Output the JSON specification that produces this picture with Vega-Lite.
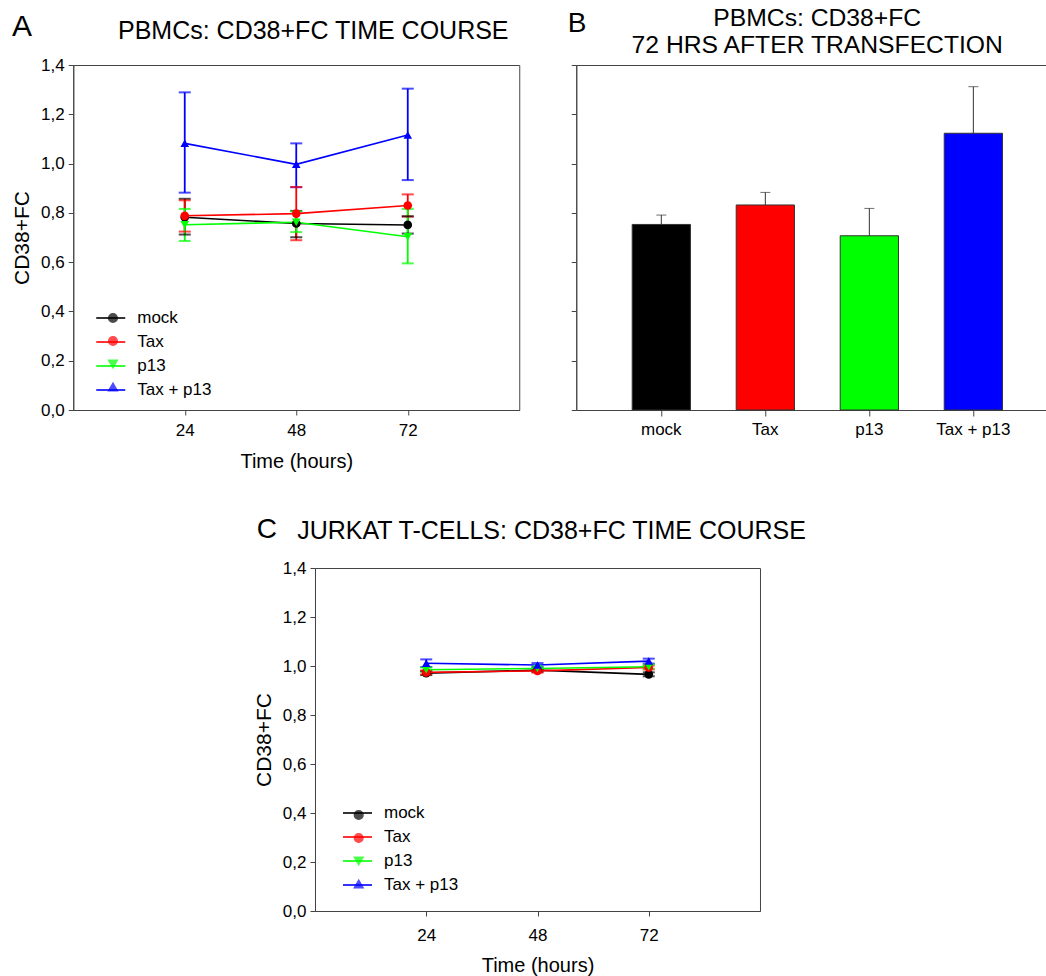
{
  "$schema": "https://vega.github.io/schema/vega-lite/v6.json",
  "padding": {"left": 11, "top": 5, "right": 0, "bottom": 0},
  "datasets": {
    "pbmc_time": [
      {"series": "mock", "hours": 24, "fc": 0.782, "lo": 0.712, "hi": 0.857},
      {"series": "mock", "hours": 48, "fc": 0.757, "lo": 0.701, "hi": 0.808},
      {"series": "mock", "hours": 72, "fc": 0.751, "lo": 0.716, "hi": 0.786},
      {"series": "Tax", "hours": 24, "fc": 0.788, "lo": 0.724, "hi": 0.851},
      {"series": "Tax", "hours": 48, "fc": 0.797, "lo": 0.689, "hi": 0.905},
      {"series": "Tax", "hours": 72, "fc": 0.830, "lo": 0.785, "hi": 0.875},
      {"series": "p13", "hours": 24, "fc": 0.752, "lo": 0.686, "hi": 0.816},
      {"series": "p13", "hours": 48, "fc": 0.762, "lo": 0.722, "hi": 0.806},
      {"series": "p13", "hours": 72, "fc": 0.703, "lo": 0.595, "hi": 0.816},
      {"series": "Tax + p13", "hours": 24, "fc": 1.082, "lo": 0.882, "hi": 1.289},
      {"series": "Tax + p13", "hours": 48, "fc": 0.997, "lo": 0.904, "hi": 1.082},
      {"series": "Tax + p13", "hours": 72, "fc": 1.116, "lo": 0.933, "hi": 1.304}
    ],
    "pbmc_72": [
      {"group": "mock", "fc": 0.753, "hi": 0.791},
      {"group": "Tax", "fc": 0.832, "hi": 0.883},
      {"group": "p13", "fc": 0.707, "hi": 0.818},
      {"group": "Tax + p13", "fc": 1.123, "hi": 1.312}
    ],
    "jurkat_time": [
      {"series": "mock", "hours": 24, "fc": 0.971, "lo": 0.963, "hi": 0.979},
      {"series": "mock", "hours": 48, "fc": 0.983, "lo": 0.976, "hi": 0.990},
      {"series": "mock", "hours": 72, "fc": 0.966, "lo": 0.958, "hi": 0.974},
      {"series": "Tax", "hours": 24, "fc": 0.974, "lo": 0.966, "hi": 0.982},
      {"series": "Tax", "hours": 48, "fc": 0.980, "lo": 0.973, "hi": 0.987},
      {"series": "Tax", "hours": 72, "fc": 0.994, "lo": 0.986, "hi": 1.002},
      {"series": "p13", "hours": 24, "fc": 0.985, "lo": 0.976, "hi": 0.994},
      {"series": "p13", "hours": 48, "fc": 0.990, "lo": 0.983, "hi": 0.997},
      {"series": "p13", "hours": 72, "fc": 0.997, "lo": 0.989, "hi": 1.005},
      {"series": "Tax + p13", "hours": 24, "fc": 1.011, "lo": 0.996, "hi": 1.027},
      {"series": "Tax + p13", "hours": 48, "fc": 1.004, "lo": 0.996, "hi": 1.012},
      {"series": "Tax + p13", "hours": 72, "fc": 1.020, "lo": 1.010, "hi": 1.030}
    ]
  },
  "config": {
    "font": "Liberation Sans",
    "view": {"stroke": "#444", "strokeWidth": 1},
    "axis": {"domainColor": "#444", "tickColor": "#444", "labelColor": "#000", "titleColor": "#000", "grid": false, "labelFont": "Liberation Sans", "titleFont": "Liberation Sans", "titleFontWeight": "normal", "labelFontSize": 17, "tickSize": 5},
    "title": {"font": "Liberation Sans", "fontWeight": "normal", "color": "#000", "fontSize": 25},
    "legend": {"labelFont": "Liberation Sans", "labelColor": "#000", "labelFontSize": 17, "title": null, "padding": 0}
  },
  "center": true,
  "spacing": 43,
  "resolve": {"legend": {"color": "independent", "shape": "independent", "stroke": "independent"}},
  "vconcat": [
    {
      "title": {"text": "A", "anchor": "start", "fontSize": 30, "dx": 1, "dy": 37, "offset": 0},
      "spacing": 57,
      "bounds": "flush",
      "resolve": {"legend": {"color": "independent", "shape": "independent", "stroke": "independent"}},
      "hconcat": [
        {
          "width": 446, "height": 345,
          "title": {"text": "PBMCs: CD38+FC TIME COURSE", "offset": 12, "anchor": "middle", "dx": 17},
          "data": {"name": "pbmc_time"},
          "encoding": {
            "x": {"field": "hours", "type": "quantitative", "scale": {"domain": [0, 96], "nice": false}, "axis": {"values": [24, 48, 72], "title": "Time (hours)", "titleFontSize": 20, "labelPadding": 7, "titlePadding": 13}}
          },
          "layer": [
            {"mark": {"type": "rule", "strokeWidth": 1.8}, "encoding": {"y": {"field": "lo", "type": "quantitative", "title": "CD38+FC", "scale": {"domain": [0, 1.4], "nice": false}, "axis": {"values": [0, 0.2, 0.4, 0.6, 0.8, 1.0, 1.2, 1.4], "labelExpr": "replace(format(datum.value, '.1f'), '.', ',')", "titleFontSize": 21, "labelPadding": 4, "titlePadding": 8}}, "y2": {"field": "hi"},
              "color": {"field": "series", "type": "nominal", "scale": {"domain": ["mock", "Tax", "p13", "Tax + p13"], "range": ["#000000", "#ff0000", "#00ff00", "#0000ff"]}, "legend": {"orient": "none", "legendX": 31.2, "legendY": 244.5, "symbolSize": 75, "labelOffset": 21, "labelOpacity": 0, "rowPadding": 5}}}},
            {"mark": {"type": "tick", "orient": "horizontal", "size": 12, "thickness": 2}, "encoding": {"y": {"field": "lo", "type": "quantitative", "title": "CD38+FC"},
              "color": {"field": "series", "type": "nominal", "scale": {"domain": ["mock", "Tax", "p13", "Tax + p13"], "range": ["#000000", "#ff0000", "#00ff00", "#0000ff"]}, "legend": {"orient": "none", "legendX": 31.2, "legendY": 244.5, "symbolSize": 75, "labelOffset": 21, "labelOpacity": 0, "rowPadding": 5}}}},
            {"mark": {"type": "tick", "orient": "horizontal", "size": 12, "thickness": 2}, "encoding": {"y": {"field": "hi", "type": "quantitative", "title": "CD38+FC"},
              "color": {"field": "series", "type": "nominal", "scale": {"domain": ["mock", "Tax", "p13", "Tax + p13"], "range": ["#000000", "#ff0000", "#00ff00", "#0000ff"]}, "legend": {"orient": "none", "legendX": 31.2, "legendY": 244.5, "symbolSize": 75, "labelOffset": 21, "labelOpacity": 0, "rowPadding": 5}}}},
            {"mark": {"type": "line", "strokeWidth": 1.6}, "encoding": {"y": {"field": "fc", "type": "quantitative", "title": "CD38+FC"},
              "stroke": {"field": "series", "type": "nominal", "sort": ["mock", "Tax", "p13", "Tax + p13"], "scale": {"range": ["#000000", "#ff0000", "#00ff00", "#0000ff"]}, "legend": {"orient": "none", "legendX": 22, "legendY": 237.5, "symbolType": "stroke", "symbolSize": 841, "symbolStrokeWidth": 1.6, "labelOffset": 11, "rowPadding": -1}}}},
            {"mark": {"type": "point", "filled": true, "size": 75, "opacity": 1}, "encoding": {"y": {"field": "fc", "type": "quantitative", "title": "CD38+FC"},
              "color": {"field": "series", "type": "nominal", "scale": {"domain": ["mock", "Tax", "p13", "Tax + p13"], "range": ["#000000", "#ff0000", "#00ff00", "#0000ff"]}, "legend": {"orient": "none", "legendX": 31.2, "legendY": 244.5, "symbolSize": 75, "labelOffset": 21, "labelOpacity": 0, "rowPadding": 5}},
              "shape": {"field": "series", "type": "nominal", "scale": {"domain": ["mock", "Tax", "p13", "Tax + p13"], "range": ["circle", "circle", "triangle-down", "triangle-up"]}, "legend": {"orient": "none", "legendX": 31.2, "legendY": 244.5, "symbolSize": 75, "labelOffset": 21, "labelOpacity": 0, "rowPadding": 5}}}}
          ]
        },
        {
          "width": 472, "height": 345,
          "title": {"text": ["PBMCs: CD38+FC", "72 HRS AFTER TRANSFECTION"], "fontSize": 24.7, "lineHeight": 27.5, "offset": -49, "anchor": "middle", "dx": 5},
          "data": {"name": "pbmc_72"},
          "encoding": {
            "x": {"field": "group", "type": "nominal", "sort": ["mock", "Tax", "p13", "Tax + p13"], "scale": {"paddingInner": 0.44, "paddingOuter": 0.489, "align": 0.55}, "axis": {"title": null, "labelAngle": 0, "tickSize": 6, "labelPadding": 5}}
          },
          "layer": [
            {"mark": {"type": "bar", "stroke": "#333", "strokeWidth": 1}, "encoding": {"y": {"field": "fc", "type": "quantitative", "title": "B", "scale": {"domain": [0, 1.4], "nice": false}, "axis": {"values": [0, 0.2, 0.4, 0.6, 0.8, 1.0, 1.2, 1.4], "labels": false, "titleAngle": 0, "titleX": -9, "titleY": -34, "titleAlign": "left", "titleBaseline": "alphabetic", "titleFontSize": 28}}, "color": {"field": "group", "type": "nominal", "scale": {"domain": ["mock", "Tax", "p13", "Tax + p13"], "range": ["#000000", "#ff0000", "#00ff00", "#0000ff"]}, "legend": null}}},
            {"mark": {"type": "rule", "color": "#333", "strokeWidth": 1}, "encoding": {"y": {"field": "fc", "type": "quantitative", "title": "B"}, "y2": {"field": "hi"}}},
            {"mark": {"type": "tick", "orient": "horizontal", "size": 10, "thickness": 1, "color": "#333"}, "encoding": {"y": {"field": "hi", "type": "quantitative", "title": "B"}}}
          ]
        }
      ]
    },
    {
      "title": {"text": "C", "anchor": "start", "fontSize": 28, "dx": 4, "dy": 25, "offset": 0},
      "resolve": {"legend": {"color": "independent", "shape": "independent", "stroke": "independent"}},
      "vconcat": [
        {
          "width": 445, "height": 343,
          "title": {"text": "JURKAT T-CELLS: CD38+FC TIME COURSE", "offset": 15, "anchor": "middle", "dx": 14},
          "data": {"name": "jurkat_time"},
          "encoding": {
            "x": {"field": "hours", "type": "quantitative", "scale": {"domain": [0, 96], "nice": false}, "axis": {"values": [24, 48, 72], "title": "Time (hours)", "titleFontSize": 20, "labelPadding": 11, "titlePadding": 12}}
          },
          "layer": [
            {"mark": {"type": "rule", "strokeWidth": 1.8}, "encoding": {"y": {"field": "lo", "type": "quantitative", "title": "CD38+FC", "scale": {"domain": [0, 1.4], "nice": false}, "axis": {"values": [0, 0.2, 0.4, 0.6, 0.8, 1.0, 1.2, 1.4], "labelExpr": "replace(format(datum.value, '.1f'), '.', ',')", "titleFontSize": 21, "labelPadding": 4, "titlePadding": 8}}, "y2": {"field": "hi"},
              "color": {"field": "series", "type": "nominal", "scale": {"domain": ["mock", "Tax", "p13", "Tax + p13"], "range": ["#000000", "#ff0000", "#00ff00", "#0000ff"]}, "legend": {"orient": "none", "legendX": 35.2, "legendY": 238.5, "symbolSize": 75, "labelOffset": 21, "labelOpacity": 0, "rowPadding": 5}}}},
            {"mark": {"type": "tick", "orient": "horizontal", "size": 12, "thickness": 2}, "encoding": {"y": {"field": "lo", "type": "quantitative", "title": "CD38+FC"},
              "color": {"field": "series", "type": "nominal", "scale": {"domain": ["mock", "Tax", "p13", "Tax + p13"], "range": ["#000000", "#ff0000", "#00ff00", "#0000ff"]}, "legend": {"orient": "none", "legendX": 35.2, "legendY": 238.5, "symbolSize": 75, "labelOffset": 21, "labelOpacity": 0, "rowPadding": 5}}}},
            {"mark": {"type": "tick", "orient": "horizontal", "size": 12, "thickness": 2}, "encoding": {"y": {"field": "hi", "type": "quantitative", "title": "CD38+FC"},
              "color": {"field": "series", "type": "nominal", "scale": {"domain": ["mock", "Tax", "p13", "Tax + p13"], "range": ["#000000", "#ff0000", "#00ff00", "#0000ff"]}, "legend": {"orient": "none", "legendX": 35.2, "legendY": 238.5, "symbolSize": 75, "labelOffset": 21, "labelOpacity": 0, "rowPadding": 5}}}},
            {"mark": {"type": "line", "strokeWidth": 1.6}, "encoding": {"y": {"field": "fc", "type": "quantitative", "title": "CD38+FC"},
              "stroke": {"field": "series", "type": "nominal", "sort": ["mock", "Tax", "p13", "Tax + p13"], "scale": {"range": ["#000000", "#ff0000", "#00ff00", "#0000ff"]}, "legend": {"orient": "none", "legendX": 27, "legendY": 229.5, "symbolType": "stroke", "symbolSize": 841, "symbolStrokeWidth": 1.6, "labelOffset": 11, "rowPadding": -1}}}},
            {"mark": {"type": "point", "filled": true, "size": 75, "opacity": 1}, "encoding": {"y": {"field": "fc", "type": "quantitative", "title": "CD38+FC"},
              "color": {"field": "series", "type": "nominal", "scale": {"domain": ["mock", "Tax", "p13", "Tax + p13"], "range": ["#000000", "#ff0000", "#00ff00", "#0000ff"]}, "legend": {"orient": "none", "legendX": 35.2, "legendY": 238.5, "symbolSize": 75, "labelOffset": 21, "labelOpacity": 0, "rowPadding": 5}},
              "shape": {"field": "series", "type": "nominal", "scale": {"domain": ["mock", "Tax", "p13", "Tax + p13"], "range": ["circle", "circle", "triangle-down", "triangle-up"]}, "legend": {"orient": "none", "legendX": 35.2, "legendY": 238.5, "symbolSize": 75, "labelOffset": 21, "labelOpacity": 0, "rowPadding": 5}}}}
          ]
        }
      ]
    }
  ]
}
